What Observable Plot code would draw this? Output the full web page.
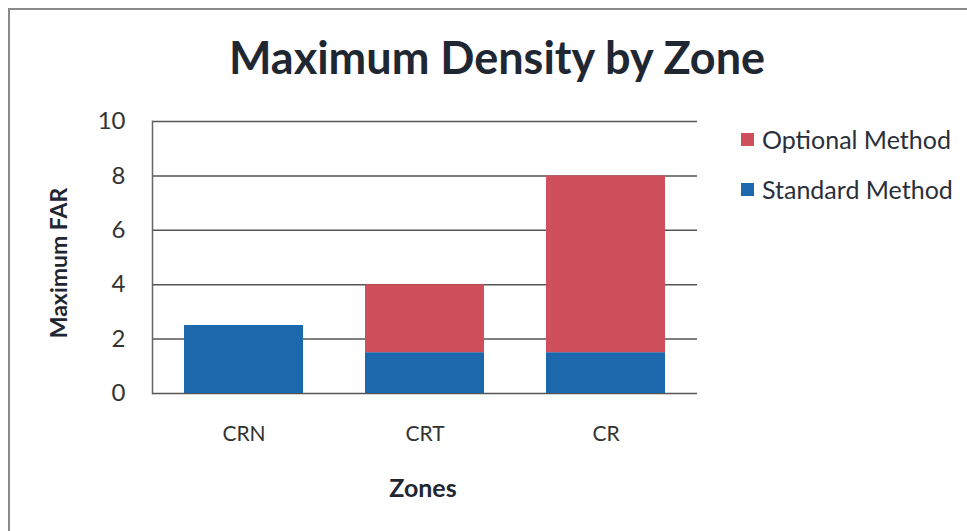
<!DOCTYPE html>
<html>
<head>
<meta charset="utf-8">
<script src="https://cdn.jsdelivr.net/npm/d3@7"></script>
<script src="https://cdn.jsdelivr.net/npm/@observablehq/plot@0.6"></script>
<style>
  html, body { margin: 0; padding: 0; background: #fff; }
  #wrap { position: relative; width: 967px; height: 531px; overflow: hidden; font-family: Lato, "Open Sans", sans-serif; color: #222; }
  #frame { position: absolute; left: 8px; top: 8px; width: 1000px; height: 600px; border-left: 2px solid #8a8a8a; border-top: 2px solid #8a8a8a; }
  #title { position: absolute; left: 0; width: 994px; top: 30px; text-align: center; font-weight: 700; font-size: 45px; color: #1f2733; }
  #ylab { position: absolute; left: -92px; top: 248px; width: 300px; height: 30px; line-height: 30px; text-align: center; transform: rotate(-90deg); font-weight: 700; font-size: 23px; white-space: nowrap; color: #1f2733; }
  #xlab { position: absolute; left: 273px; top: 472px; width: 300px; height: 30px; line-height: 30px; text-align: center; font-weight: 700; font-size: 25px; color: #1f2733; }
  #legend { position: absolute; left: 741px; top: 124px; font-size: 25px; color: #2a2f3a; }
  .item { display: flex; align-items: center; height: 30px; margin-bottom: 20px; white-space: nowrap; }
  .sw { width: 13px; height: 13px; margin-right: 8px; }
  #chart { position: absolute; left: 0; top: 0; }
  #chart g[aria-label="y-axis tick label"] { font-size: 24px; }
  #chart g[aria-label="x-axis tick label"] { font-size: 21px; }
</style>
</head>
<body>
<div id="wrap">
  <div id="frame"></div>
  <div id="chart"></div>
  <div id="title">Maximum Density by Zone</div>
  <div id="ylab">Maximum FAR</div>
  <div id="xlab">Zones</div>
  <div id="legend"></div>
</div>
<script>
const zones = ["CRN", "CRT", "CR"];
const standardMethod = [2.5, 1.5, 1.5];
const optionalMethod = [0, 2.5, 6.5];
const seriesNames = ["Standard Method", "Optional Method"];
const seriesColors = ["#1c68ad", "#cf4f5c"];
const yTicks = [0, 2, 4, 6, 8, 10];

const data = [];
zones.forEach((z, i) => {
  data.push({zone: z, series: seriesNames[0], value: standardMethod[i]});
  data.push({zone: z, series: seriesNames[1], value: optionalMethod[i]});
});

const chart = Plot.plot({
  width: 967,
  height: 531,
  marginLeft: 152,
  marginRight: 270,
  marginTop: 121,
  marginBottom: 138,
  style: {fontFamily: "Lato, 'Open Sans', sans-serif", fontSize: "21px", color: "#333", background: "transparent"},
  x: {domain: zones, paddingInner: 0.34, paddingOuter: 0.17, label: null, axis: null},
  y: {domain: [0, 10], label: null, axis: null},
  color: {domain: seriesNames, range: seriesColors},
  marks: [
    Plot.ruleY(yTicks, {stroke: "#555", strokeWidth: 1.5}),
    Plot.barY(data, {x: "zone", y: "value", fill: "series", order: seriesNames}),
    Plot.frame({anchor: "left", stroke: "#666", strokeWidth: 1.5}),
    Plot.axisY({ticks: yTicks, tickSize: 0, tickPadding: 27, label: null}),
    Plot.axisX({tickSize: 0, tickPadding: 33, label: null})
  ]
});
document.getElementById("chart").appendChild(chart);

const legend = document.getElementById("legend");
[1, 0].forEach(i => {
  const item = document.createElement("div");
  item.className = "item";
  const sw = document.createElement("div");
  sw.className = "sw";
  sw.style.background = seriesColors[i];
  const t = document.createElement("span");
  t.textContent = seriesNames[i];
  item.appendChild(sw);
  item.appendChild(t);
  legend.appendChild(item);
});
</script>
</body>
</html>
